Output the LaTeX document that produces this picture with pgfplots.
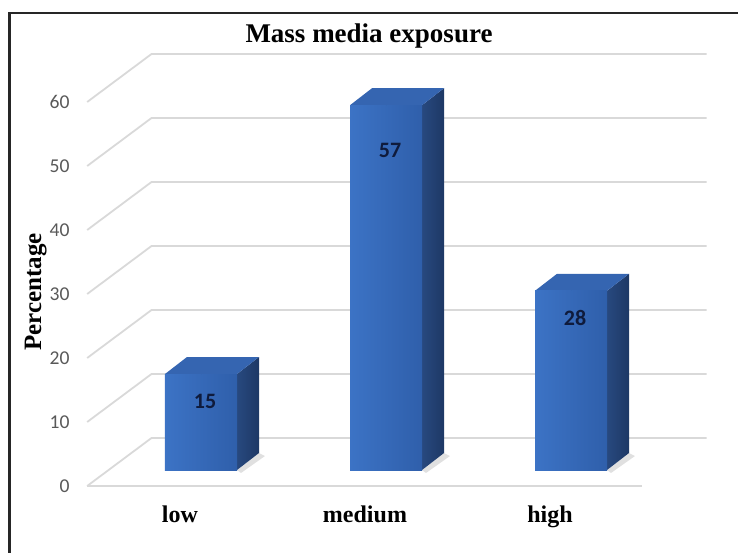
\documentclass[border=0pt]{standalone}
\usepackage{pgfplots}
\pgfplotsset{compat=1.18}
\usepackage{pgfplotstable}
\usepackage{fontspec}
\setmainfont{Liberation Serif}
\newfontfamily\carlito{Carlito}

\definecolor{gridgray}{HTML}{D9D9D9}
\definecolor{ticktext}{HTML}{595959}
\definecolor{frontL}{HTML}{3C73C5}
\definecolor{frontR}{HTML}{2F5FAB}
\definecolor{sideL}{HTML}{28497F}
\definecolor{sideR}{HTML}{1D3865}
\definecolor{topface}{HTML}{3565B1}
\definecolor{labeltext}{HTML}{0F1B3C}

% percentage per exposure level; lab = vertical offset of the value label
\pgfplotstableread{
idx pct lab
0   15  -13.5
1   57  -22.5
2   28  -13.5
}\exposure

\begin{document}
\begin{tikzpicture}
\begin{axis}[
  at={(54.25pt,41.5pt)}, anchor=south west,
  scale only axis, width=277.5pt, height=192pt,
  xmin=-0.5, xmax=2.5, ymin=0, ymax=60,
  clip=false,
  axis line style={draw=none},
  major tick length=0pt,
  /pgf/number format/assume math mode=true,
  xtick={0,1,2}, xticklabels={low,medium,high},
  ytick={0,10,...,60},
  xticklabel style={font=\fontsize{12}{14}\selectfont\bfseries, anchor=base,
    inner sep=0pt, yshift=-26pt, xshift=-10.5pt},
  yticklabel style={font=\carlito\fontsize{9.8}{11}\selectfont, text=ticktext,
    anchor=east, inner sep=0pt, xshift=-19.25pt, yshift=-8pt},
]
% floor and back wall grid
\pgfplotsinvokeforeach{0,10,20,30,40,50,60}{
  \draw[gridgray, line width=0.9pt]
    ([shift={(-10.67pt,-8pt)}]axis cs:-0.5,#1) --
    ([shift={(21.5pt,16pt)}]axis cs:-0.5,#1) --
    ([shift={(21.5pt,16pt)}]axis cs:2.5,#1);
}
\draw[gridgray, line width=0.9pt]
  ([shift={(-10.67pt,-8pt)}]axis cs:-0.5,0) --
  ([shift={(-10.67pt,-8pt)}]axis cs:2.5,0);

% 3-D bars: front face, right side and top drawn from each value
\addplot[scatter, only marks, mark=*, mark size=0pt,
  mark options={draw=none, fill=none},
  visualization depends on={\thisrow{pct} \as \pct},
  visualization depends on={\thisrow{lab} \as \lab},
  scatter/@pre marker code/.code={%
    \pgfmathsetlengthmacro\h{\pct*3.2pt}%
    \pgfmathsetlengthmacro\hb{8.5pt-\h}%
    \fill[draw=none, black!20, opacity=0.6]
      (18pt,-\h) -- (29pt,-\h+8.5pt) -- (32pt,-\h+7pt) -- (20pt,-\h-1.5pt) -- cycle;
    \shade[draw=none, left color=sideL, right color=sideR]
      (18pt,0pt) -- (29pt,8.5pt) -- (29pt,\hb) -- (18pt,-\h) -- cycle;
    \fill[draw=none, topface]
      (-18pt,0pt) -- (18pt,0pt) -- (29pt,8.5pt) -- (-7pt,8.5pt) -- cycle;
    \shade[draw=none, left color=frontL, right color=frontR]
      (-18pt,-\h) rectangle (18pt,0pt);
    \node[font=\carlito\bfseries\fontsize{11}{13}\selectfont, text=labeltext,
      /pgf/number format/assume math mode=true]
      at (2pt,\lab pt) {\pgfmathprintnumber{\pct}};
  },
  scatter/@post marker code/.code={},
] table[x=idx, y=pct] {\exposure};
\end{axis}

\node[font=\fontsize{13.5}{16}\selectfont\bfseries, anchor=base]
  at (184.5pt,255pt) {Mass media exposure};
\node[font=\fontsize{12.5}{15}\selectfont\bfseries, rotate=90, anchor=base]
  at (20.5pt,130.5pt) {Percentage};
\draw[line width=1.25pt, black!85] (369pt,270pt) -- (4.75pt,270pt) -- (4.75pt,0pt);

\pgfresetboundingbox
\path[use as bounding box] (0,0) rectangle (369pt,276.5pt);
\end{tikzpicture}
\end{document}
